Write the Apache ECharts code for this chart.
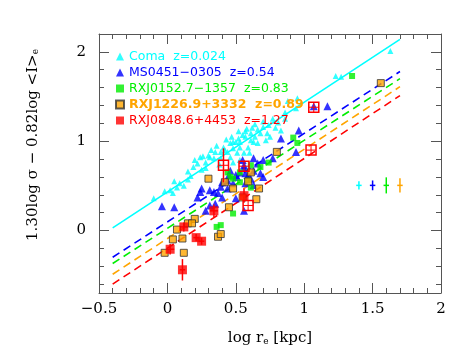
<!DOCTYPE html>
<html>
<head>
<meta charset="utf-8">
<script src="https://cdn.jsdelivr.net/npm/echarts@6/dist/echarts.min.js"></script>
<style>
  html, body { margin: 0; padding: 0; background: #fff; }
  #chart { width: 463px; height: 360px; }
</style>
</head>
<body>
<div id="chart"></div>
<script>
// Coma, z=0.024  [log re, 1.30 log sigma - 0.82 log <I>e]
const comaPts = [
  [-0.10, 0.36], [-0.02, 0.44], [0.02, 0.45], [0.05, 0.55], [0.07, 0.48], [0.04, 0.42],
  [0.09, 0.53], [0.15, 0.57], [0.17, 0.61], [0.15, 0.66], [0.19, 0.71], [0.20, 0.79],
  [0.24, 0.82], [0.22, 0.75], [0.28, 0.76], [0.30, 0.84], [0.26, 0.83], [0.31, 0.82],
  [0.34, 0.81], [0.35, 0.88], [0.39, 0.88], [0.39, 0.81], [0.41, 0.93], [0.44, 0.88],
  [0.46, 0.82], [0.46, 0.98], [0.48, 0.99], [0.48, 0.92], [0.50, 0.99], [0.51, 0.87],
  [0.52, 1.11], [0.53, 0.99], [0.53, 0.93], [0.53, 0.79], [0.56, 0.87], [0.57, 1.11],
  [0.57, 1.05], [0.55, 1.07], [0.59, 0.93], [0.61, 1.09], [0.61, 1.01], [0.63, 0.99],
  [0.64, 1.05], [0.66, 0.98], [0.64, 1.19], [0.68, 1.09], [0.70, 1.16], [0.72, 1.01],
  [0.74, 1.18], [0.75, 1.05], [0.77, 1.25], [0.81, 1.21], [0.83, 1.12], [0.86, 1.32],
  [0.86, 1.25], [0.88, 1.45], [0.94, 1.37], [0.95, 1.48], [1.23, 1.73], [1.27, 1.72],
  [1.63, 2.01], [0.48, 0.76], [0.42, 0.90], [0.32, 0.90], [0.36, 0.95], [0.43, 1.02],
  [0.47, 1.05], [0.52, 1.03], [0.58, 1.14], [0.62, 1.15], [0.66, 1.13], [0.70, 1.22],
  [0.28, 0.70], [0.25, 0.68], [0.12, 0.50], [0.38, 0.74], [0.60, 0.87], [0.73, 1.09],
  [0.79, 1.15]
];
// MS0451-0305, z=0.54
const ms0451Pts = [
  [-0.04, 0.27], [0.05, 0.26], [0.22, 0.37], [0.25, 0.47], [0.24, 0.43], [0.28, 0.22],
  [0.31, 0.28], [0.34, 0.43], [0.37, 0.42], [0.40, 0.54], [0.39, 0.49], [0.44, 0.56],
  [0.46, 0.67], [0.48, 0.53], [0.50, 0.62], [0.53, 0.65], [0.56, 0.70], [0.57, 0.64],
  [0.61, 0.58], [0.63, 0.67], [0.68, 0.64], [0.50, 0.36], [0.56, 0.22], [0.35, 0.30],
  [0.55, 0.79], [0.63, 0.81], [0.70, 0.79], [0.77, 0.81], [0.66, 0.75], [0.56, 0.73],
  [0.45, 0.62], [0.51, 0.60], [0.59, 0.62], [0.70, 0.60], [0.57, 0.53], [0.44, 0.47],
  [0.40, 0.37], [0.63, 0.51], [0.83, 1.03], [0.96, 1.12], [0.94, 0.88], [1.07, 1.39],
  [1.17, 1.39], [0.31, 0.45]
];
// RXJ0152.7-1357, z=0.83
const rxj0152Pts = [
  [1.35, 1.73], [0.92, 1.04], [0.95, 0.98], [0.74, 0.76], [0.68, 0.71], [0.61, 0.73],
  [0.44, 0.65], [0.53, 0.54], [0.48, 0.19], [0.36, 0.04], [0.39, 0.06], [0.46, 0.60],
  [0.59, 0.56], [0.61, 0.48], [0.53, 0.65], [0.48, 0.58]
];
// RXJ1226.9+3332, z=0.89
const rxj1226Pts = [
  [1.56, 1.65], [0.80, 0.88], [0.30, 0.58], [0.04, -0.10], [0.11, -0.09], [-0.02, -0.25],
  [0.12, -0.25], [0.07, 0.01], [0.15, 0.08], [0.20, 0.13], [0.18, 0.08], [0.42, 0.54],
  [0.48, 0.47], [0.45, 0.26], [0.61, 0.65], [0.59, 0.55], [0.67, 0.47], [0.65, 0.35],
  [0.55, 0.37], [0.37, -0.07], [0.39, -0.04]
];
// RXJ0848.6+4453, z=1.27  [x, y, xerr, yerr]
const rxj0848Pts = [
  [0.02, -0.21, 0.03, 0.06], [0.11, -0.44, 0.02, 0.12], [0.12, 0.04, 0.03, 0.05],
  [0.21, -0.08, 0.02, 0.04], [0.25, -0.12, 0.02, 0.04], [0.34, 0.22, 0.03, 0.07],
  [0.56, 0.39, 0.03, 0.08]
];
// open red squares (not in legend)  [x, y, yerr]
const openPts = [
  [0.41, 0.73, 0.19], [0.56, 0.72, 0.0], [0.59, 0.28, 0.0], [1.05, 0.90, 0.0], [1.07, 1.38, 0.0]
];
// fitted relations, drawn from x=-0.4 to 1.7
const comaFit = [[-0.4, 0.03], [1.7, 2.14]];
const ms0451Fit = [[-0.4, -0.30], [1.7, 1.78]];
const rxj0152Fit = [[-0.4, -0.37], [1.7, 1.70]];
const rxj1226Fit = [[-0.4, -0.49], [1.7, 1.61]];
const rxj0848Fit = [[-0.4, -0.60], [1.7, 1.51]];
// typical error crosses  [x, y, xerr, yerr]
const typErrs = [[1.40, 0.505, 0.02, 0.045], [1.50, 0.505, 0.02, 0.055], [1.60, 0.505, 0.02, 0.09], [1.70, 0.505, 0.02, 0.08]];
const typErrColors = ['#00ffff', '#0000ff', '#00ee00', '#ffa500'];

const yMajor = [0, 1, 2];
const yMinor = [-0.6, -0.4, -0.2, 0.2, 0.4, 0.6, 0.8, 1.2, 1.4, 1.6, 1.8, 2.2];

const names = ['Coma  z=0.024', 'MS0451\u22120305  z=0.54', 'RXJ0152.7\u22121357  z=0.83', 'RXJ1226.9+3332  z=0.89', 'RXJ0848.6+4453  z=1.27'];
const colors = ['#00ffff', '#0000ff', '#00ee00', '#ffa500', '#ff0000'];

const axisColor = '#555';
const serif = 'DejaVu Serif';

const chart = echarts.init(document.getElementById('chart'));

const errRender = (colorFn) => (params, api) => {
  const x = api.value(0), y = api.value(1), ex = api.value(2), ey = api.value(3);
  const l = api.coord([x - ex, y]), r = api.coord([x + ex, y]);
  const t = api.coord([x, y + ey]), b = api.coord([x, y - ey]);
  const stroke = colorFn(params.dataIndex);
  return {
    type: 'group',
    children: [
      { type: 'line', shape: { x1: l[0], y1: l[1], x2: r[0], y2: r[1] }, style: { stroke, lineWidth: 1.5 } },
      { type: 'line', shape: { x1: t[0], y1: t[1], x2: b[0], y2: b[1] }, style: { stroke, lineWidth: 1.5 } }
    ]
  };
};

const openRender = (params, api) => {
  const c = api.coord([api.value(0), api.value(1)]);
  const ey = api.value(2);
  const s = 5;
  const children = [
    { type: 'rect', shape: { x: c[0] - s, y: c[1] - s, width: 2 * s, height: 2 * s }, style: { fill: 'none', stroke: '#ff0000', lineWidth: 1.5 } },
    { type: 'line', shape: { x1: c[0] - s, y1: c[1], x2: c[0] + s, y2: c[1] }, style: { stroke: '#ff0000', lineWidth: 1 } },
    { type: 'line', shape: { x1: c[0], y1: c[1] - s, x2: c[0], y2: c[1] + s }, style: { stroke: '#ff0000', lineWidth: 1 } }
  ];
  if (ey > 0) {
    const t = api.coord([api.value(0), api.value(1) + ey]);
    const b = api.coord([api.value(0), api.value(1) - ey]);
    children.push({ type: 'line', shape: { x1: t[0], y1: t[1], x2: b[0], y2: b[1] }, style: { stroke: '#ff0000', lineWidth: 1.5 } });
  }
  return { type: 'group', children };
};

const fitLine = (data, color, dashed) => ({
  type: 'line',
  data,
  symbol: 'none',
  silent: true,
  z: 1,
  lineStyle: { color, width: 1.6, type: dashed ? [8, 5] : 'solid' }
});

const yBase = {
  type: 'value', min: -0.7, max: 2.2,
  splitLine: { show: false },
  axisLine: { show: true, onZero: false, lineStyle: { color: axisColor, width: 1 } }
};
const hiddenLine = { show: false, onZero: false };

const xBase = {
  type: 'value', min: -0.5, max: 2, interval: 0.5,
  splitLine: { show: false },
  axisLine: { show: true, onZero: false, lineStyle: { color: axisColor, width: 1 } },
  axisTick: { inside: true, length: 10, lineStyle: { color: axisColor } },
  minorTick: { show: true, splitNumber: 5, length: 5, lineStyle: { color: axisColor } },
  minorSplitLine: { show: false }
};

chart.setOption({
  animation: false,
  grid: { left: 99, right: 22, top: 34, bottom: 67 },
  legend: {
    orient: 'vertical',
    left: 110,
    top: 45,
    itemWidth: 8,
    itemHeight: 8,
    itemGap: 3,
    textStyle: { fontFamily: 'DejaVu Sans', fontSize: 12.5 },
    data: names.map((n, i) => ({
      name: n,
      textStyle: { color: colors[i], fontWeight: i === 3 ? 'bold' : 'normal' }
    }))
  },
  xAxis: [
    Object.assign({}, xBase, {
      position: 'bottom',
      name: 'log r{sub|e} [kpc]',
      nameLocation: 'middle',
      nameGap: 38,
      nameTextStyle: {
        color: '#000', fontFamily: serif, fontSize: 15,
        rich: { sub: { fontSize: 9, fontFamily: serif, color: '#000', verticalAlign: 'bottom', padding: [6, 0, 0, 0] } }
      },
      axisLabel: {
        color: '#000', fontFamily: serif, fontSize: 15, margin: 9,
        formatter: v => String(v).replace('-', '\u2212')
      }
    }),
    Object.assign({}, xBase, { position: 'top', axisLabel: { show: false } })
  ],
  yAxis: [
    Object.assign({}, yBase, {
      position: 'left',
      axisTick: { inside: true, length: 10, customValues: yMajor, lineStyle: { color: axisColor } },
      axisLabel: { customValues: yMajor, color: '#000', fontFamily: serif, fontSize: 15, margin: 13 }
    }),
    Object.assign({}, yBase, {
      position: 'left',
      axisLine: hiddenLine,
      axisTick: { inside: true, length: 5, customValues: yMinor, lineStyle: { color: axisColor } },
      axisLabel: { show: false }
    }),
    Object.assign({}, yBase, {
      position: 'right',
      axisTick: { inside: true, length: 10, customValues: yMajor, lineStyle: { color: axisColor } },
      axisLabel: { show: false }
    }),
    Object.assign({}, yBase, {
      position: 'right',
      axisLine: hiddenLine,
      axisTick: { inside: true, length: 5, customValues: yMinor, lineStyle: { color: axisColor } },
      axisLabel: { show: false }
    })
  ],
  graphic: [{
    type: 'text',
    x: 33,
    y: 145,
    rotation: Math.PI / 2,
    style: {
      text: '1.30log \u03c3 \u2212 0.82log <I>{sub|e}',
      fill: '#000',
      font: '15px "DejaVu Serif"',
      align: 'center',
      verticalAlign: 'middle',
      rich: { sub: { fontSize: 9, fontFamily: serif, fill: '#000', verticalAlign: 'bottom', padding: [6, 0, 0, 0] } }
    }
  }],
  series: [
    fitLine(comaFit, colors[0], false),
    fitLine(ms0451Fit, colors[1], true),
    fitLine(rxj0152Fit, colors[2], true),
    fitLine(rxj1226Fit, colors[3], true),
    fitLine(rxj0848Fit, colors[4], true),
    {
      name: names[0], type: 'scatter', symbol: 'triangle', symbolSize: 6, z: 2,
      itemStyle: { color: colors[0] }, data: comaPts
    },
    {
      name: names[1], type: 'scatter', symbol: 'triangle', symbolSize: 8, z: 3,
      itemStyle: { color: colors[1] }, data: ms0451Pts
    },
    {
      name: names[2], type: 'scatter', symbol: 'rect', symbolSize: 6, z: 4,
      itemStyle: { color: colors[2] }, data: rxj0152Pts
    },
    {
      name: names[3], type: 'scatter', symbol: 'rect', symbolSize: 7, z: 5,
      itemStyle: { color: colors[3], borderColor: '#333', borderWidth: 1 }, data: rxj1226Pts
    },
    {
      type: 'custom', z: 5, silent: true,
      renderItem: errRender(() => '#ff0000'),
      encode: { x: 0, y: 1 },
      data: rxj0848Pts
    },
    {
      name: names[4], type: 'scatter', symbol: 'rect', symbolSize: 9, z: 6,
      itemStyle: { color: colors[4] }, data: rxj0848Pts.map(p => [p[0], p[1]])
    },
    {
      type: 'custom', z: 7, silent: true,
      renderItem: openRender,
      encode: { x: 0, y: 1 },
      data: openPts
    },
    {
      type: 'custom', z: 7, silent: true,
      renderItem: errRender(i => typErrColors[i]),
      encode: { x: 0, y: 1 },
      data: typErrs
    }
  ]
});
</script>
</body>
</html>
